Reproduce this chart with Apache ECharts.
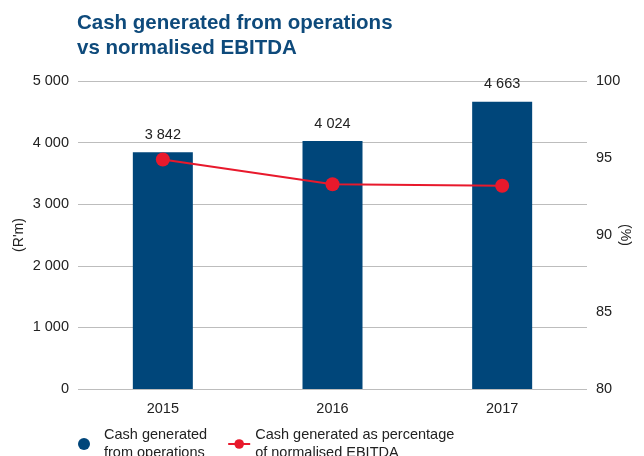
<!DOCTYPE html>
<html lang="en">
<head>
    <meta charset="UTF-8">
    <title>Cash generated vs EBITDA</title>
    <style>
        body{margin:0;background:#fff;}
        #main{width:644px;height:456px;}
    </style>
</head>
<body>
    <div id="main"></div>
    <script src="https://cdn.jsdelivr.net/npm/echarts@6/dist/echarts.min.js"></script>
    <script type="text/javascript">
        var years = ['2015', '2016', '2017'];
        var cashOps = [3842, 4024, 4663];
        var cashPct = [94.9, 93.3, 93.2];

        var myChart = echarts.init(document.getElementById('main'));

        function fmt(v){
            return String(v).replace(/\B(?=(\d{3})+(?!\d))/g, ' ');
        }

        var option = {
            animation: false,
            textStyle: {fontFamily: 'Liberation Sans, Arial, sans-serif'},
            title: {
                text: 'Cash generated from operations\nvs normalised EBITDA',
                left: 72,
                top: 6,
                textStyle: {
                    color: '#0e4a7b',
                    fontSize: 20.5,
                    fontWeight: 'bold',
                    lineHeight: 25
                }
            },
            legend: {
                left: 73,
                top: 421,
                itemGap: 20,
                itemWidth: 22,
                itemHeight: 12,
                textStyle: {color: '#222', fontSize: 14.5, lineHeight: 18},
                data: [
                    {name: 'Cash generated\nfrom operations', icon: 'circle', itemStyle: {color: '#00467a'},
                        textStyle: {padding: [0, 0, 0, 4]}},
                    {name: 'Cash generated as percentage\nof normalised EBITDA'}
                ]
            },
            grid: {
                left: 78,
                right: 57,
                top: 81,
                bottom: 67,
                outerBoundsMode: 'none'
            },
            xAxis: {
                type: 'category',
                data: years,
                axisTick: {show: false},
                axisLine: {show: false},
                axisLabel: {color: '#222', fontSize: 14.5, margin: 12}
            },
            yAxis: [{
                type: 'value',
                min: 0,
                max: 5000,
                interval: 1000,
                name: "(R'm)",
                nameLocation: 'middle',
                nameGap: 52,
                nameMoveOverlap: false,
                nameTextStyle: {color: '#222', fontSize: 14},
                axisLine: {show: false},
                axisTick: {show: false},
                axisLabel: {color: '#222', fontSize: 14.5, margin: 9, formatter: fmt},
                splitLine: {lineStyle: {color: '#bdbdbd'}}
            }, {
                type: 'value',
                min: 80,
                max: 100,
                interval: 5,
                name: '(%)',
                nameLocation: 'middle',
                nameGap: 31,
                nameMoveOverlap: false,
                nameRotate: -90,
                nameTextStyle: {color: '#222', fontSize: 14},
                axisLine: {show: false},
                axisTick: {show: false},
                axisLabel: {color: '#222', fontSize: 14.5, margin: 9},
                splitLine: {show: false}
            }],
            series: [{
                name: 'Cash generated\nfrom operations',
                type: 'bar',
                barWidth: 60,
                data: cashOps,
                itemStyle: {color: '#00467a'},
                label: {
                    show: true,
                    position: 'top',
                    distance: 10,
                    color: '#222',
                    fontSize: 14.5,
                    formatter: function(p){ return fmt(p.value); }
                }
            }, {
                name: 'Cash generated as percentage\nof normalised EBITDA',
                type: 'line',
                yAxisIndex: 1,
                data: cashPct,
                symbol: 'circle',
                symbolSize: 14,
                lineStyle: {color: '#e8192c', width: 2},
                itemStyle: {color: '#e8192c'}
            }]
        };

        myChart.setOption(option);
    </script>
</body>
</html>
